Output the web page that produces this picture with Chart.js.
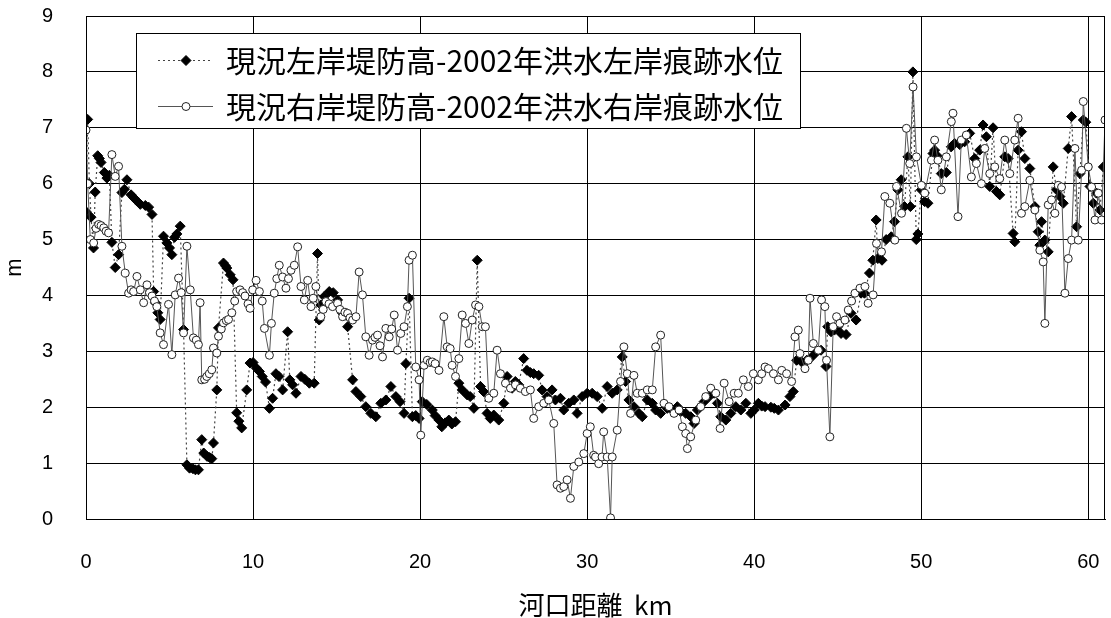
<!DOCTYPE html>
<html>
<head>
<meta charset="utf-8">
<script src="https://cdn.jsdelivr.net/npm/chart.js@4/dist/chart.umd.min.js"></script>
<style>
  html, body { margin: 0; padding: 0; background: #fff; }
  canvas { display: block; }
</style>
</head>
<body>
<canvas id="chart" width="1111" height="618"></canvas>
<script>
// 左岸：現況堤防高 − 2002年洪水痕跡水位 (m)
const leftKm = [
  0.0, 0.1, 0.2, 0.3, 0.45, 0.55, 0.7, 0.8, 0.9, 1.1, 1.25, 1.4, 1.55, 1.75, 1.95, 2.15, 2.3, 2.45, 2.7, 2.85,
  3.05, 3.25, 3.55, 3.75, 3.95, 4.05, 4.15, 4.3, 4.44, 4.64, 4.84, 5.0, 5.14, 5.3, 5.44, 5.64, 5.84, 6.04, 6.2, 6.4,
  6.55, 6.73, 6.93, 7.05, 7.25, 7.4, 7.53, 7.63, 7.83, 7.93, 8.23, 8.35, 8.43, 8.63, 8.8, 9.02, 9.15, 9.32, 9.62, 9.82,
  10.0, 10.2, 10.38, 10.55, 10.75, 10.98, 11.17, 11.37, 11.55, 11.77, 12.07, 12.2, 12.37, 12.57, 12.87, 13.1, 13.37, 13.66, 13.86, 13.96,
  14.06, 14.26, 14.56, 14.8, 15.06, 15.36, 15.66, 15.96, 16.16, 16.45, 16.75, 17.05, 17.35, 17.65, 17.95, 18.25, 18.55, 18.8, 19.04, 19.15,
  19.34, 19.54, 19.74, 19.94, 20.13, 20.4, 20.73, 20.9, 21.13, 21.3, 21.5, 21.72, 21.9, 22.12, 22.32, 22.52, 22.82, 23.0, 23.22, 23.42,
  23.62, 23.8, 24.01, 24.2, 24.41, 24.71, 25.01, 25.21, 25.51, 25.7, 25.9, 26.2, 26.4, 26.6, 26.8, 27.1, 27.3, 27.6, 27.9, 28.1,
  28.4, 28.6, 28.9, 29.2, 29.4, 29.7, 30.0, 30.3, 30.6, 30.9, 31.2, 31.5, 31.8, 32.1, 32.3, 32.5, 32.8, 33.1, 33.3, 33.6,
  33.9, 34.1, 34.4, 34.8, 35.1, 35.4, 35.6, 35.9, 36.2, 36.4, 36.6, 37.0, 37.3, 37.6, 37.8, 38.0, 38.3, 38.6, 38.9, 39.2,
  39.5, 39.8, 40.0, 40.25, 40.45, 40.65, 41.0, 41.2, 41.45, 41.85, 42.14, 42.34, 42.54, 42.84, 43.14, 43.44, 43.74, 44.0, 44.3, 44.4,
  44.6, 44.8, 45.0, 45.2, 45.5, 45.8, 46.1, 46.4, 46.6, 46.9, 47.1, 47.3, 47.4, 47.65, 47.9, 48.2, 48.4, 48.6, 48.8, 49.0,
  49.2, 49.35, 49.5, 49.7, 49.8, 50.0, 50.2, 50.4, 50.7, 50.8, 50.95, 51.2, 51.5, 51.8, 52.0, 52.3, 52.6, 52.9, 53.2, 53.5,
  53.7, 53.9, 54.1, 54.3, 54.5, 54.7, 55.0, 55.2, 55.5, 55.6, 55.8, 56.0, 56.2, 56.5, 56.8, 57.0, 57.1, 57.2, 57.4, 57.6,
  57.9, 58.1, 58.3, 58.5, 58.8, 59.0, 59.3, 59.5, 59.7, 59.85, 60.1, 60.3, 60.5, 60.7, 60.9
];
const leftLevel = [
  5.5, 7.15, 6.0, 5.4, 4.85, 5.85, 6.5, 6.45, 6.38, 6.2, 6.1, 6.15, 4.95, 4.5, 4.73, 5.84, 5.9, 6.07, 5.8, 5.75,
  5.69, 5.63, 5.61, 5.58, 5.45, 4.07, 3.87, 3.69, 3.57, 5.06, 4.94, 4.85, 4.73, 5.04, 5.1, 5.24, 3.39, 0.97, 0.91, 0.9,
  0.88, 0.88, 1.42, 1.18, 1.12, 1.1, 1.08, 1.36, 2.31, 3.42, 4.58, 4.53, 4.49, 4.37, 4.28, 1.9, 1.75, 1.63, 2.31, 2.79,
  2.8, 2.7, 2.64, 2.55, 2.45, 1.98, 2.16, 2.6, 2.55, 2.31, 3.35, 2.49, 2.4, 2.25, 2.55, 2.5, 2.43, 2.43, 4.75, 3.56,
  3.83, 3.98, 4.07, 4.05, 3.92, 3.68, 3.44, 2.49, 2.28, 2.19, 2.01, 1.89, 1.83, 2.07, 2.13, 2.37, 2.19, 2.1, 1.89, 2.78,
  3.95, 1.83, 1.85, 1.8, 2.1, 2.05, 1.95, 1.85, 1.77, 1.65, 1.72, 1.77, 1.7, 1.74, 2.43, 2.31, 2.22, 2.19, 1.98, 4.63,
  2.37, 2.28, 1.89, 1.8, 1.86, 1.77, 2.07, 2.55, 2.34, 2.46, 2.4, 2.87, 2.66, 2.62, 2.6, 2.57, 2.31, 2.19, 2.31, 2.13,
  2.16, 1.95, 2.07, 2.13, 1.89, 2.19, 2.25, 2.25, 2.19, 1.98, 2.37, 2.25, 2.31, 2.9, 2.46, 2.13, 2.01, 1.89, 1.83, 2.13,
  2.07, 1.95, 1.89, 1.98, 1.95, 2.01, 1.92, 1.89, 1.83, 1.71, 1.95, 2.1, 2.19, 2.25, 2.07, 1.83, 1.77, 1.89, 2.01, 1.95,
  2.07, 1.89, 1.95, 2.07, 2.02, 2.01, 2.0, 1.98, 1.95, 2.04, 2.19, 2.28, 2.84, 2.81, 2.84, 2.9, 2.99, 3.02, 2.73, 3.44,
  3.35, 3.38, 3.44, 3.32, 3.3, 3.68, 3.56, 4.04, 4.04, 4.4, 4.63, 5.35, 4.66, 4.63, 5.0, 5.05, 5.32, 5.89, 6.07, 5.59,
  6.48, 5.59, 8.0, 5.0, 5.1, 5.89, 5.68, 5.65, 6.54, 6.6, 6.5, 6.18, 6.2, 6.66, 6.72, 6.7, 6.75, 6.9, 6.45, 6.6,
  7.05, 6.84, 5.95, 7.0, 5.86, 5.8, 6.48, 6.45, 5.11, 4.96, 6.6, 6.93, 6.45, 6.27, 5.59, 5.14, 4.9, 5.32, 4.99, 4.78,
  6.3, 5.89, 5.77, 5.65, 6.63, 7.2, 5.23, 6.18, 7.14, 7.1, 5.95, 5.65, 5.83, 5.53, 6.3
];

// 右岸：現況堤防高 − 2002年洪水痕跡水位 (m)
const rightKm = [
  0.0, 0.1, 0.26, 0.46, 0.6, 0.76, 0.9, 1.06, 1.2, 1.35, 1.55, 1.75, 1.95, 2.15, 2.35, 2.55, 2.7, 2.85, 3.05, 3.25,
  3.45, 3.65, 3.8, 3.95, 4.1, 4.24, 4.44, 4.64, 4.94, 5.14, 5.34, 5.54, 5.7, 5.84, 6.04, 6.24, 6.43, 6.6, 6.73, 6.83,
  6.93, 7.1, 7.23, 7.38, 7.53, 7.63, 7.83, 7.93, 8.1, 8.23, 8.4, 8.53, 8.73, 8.9, 9.02, 9.22, 9.38, 9.52, 9.7, 9.82,
  9.98, 10.18, 10.38, 10.55, 10.68, 10.98, 11.1, 11.27, 11.42, 11.57, 11.77, 11.97, 12.12, 12.27, 12.47, 12.67, 12.87, 13.07, 13.27, 13.47,
  13.6, 13.76, 14.06, 14.2, 14.36, 14.55, 14.76, 15.06, 15.2, 15.36, 15.5, 15.66, 15.8, 15.96, 16.16, 16.35, 16.55, 16.75, 16.95, 17.15,
  17.3, 17.45, 17.6, 17.75, 17.95, 18.15, 18.3, 18.45, 18.65, 18.84, 19.04, 19.24, 19.34, 19.54, 19.74, 19.94, 20.04, 20.24, 20.43, 20.6,
  20.73, 20.9, 21.13, 21.42, 21.62, 21.8, 21.92, 22.12, 22.32, 22.52, 22.72, 22.92, 23.12, 23.32, 23.52, 23.72, 23.91, 24.11, 24.41, 24.61,
  24.81, 25.11, 25.41, 25.71, 26.0, 26.3, 26.6, 26.8, 27.1, 27.4, 27.7, 28.0, 28.2, 28.4, 28.6, 28.8, 29.0, 29.2, 29.5, 29.8,
  30.0, 30.19, 30.39, 30.5, 30.69, 30.89, 30.99, 31.2, 31.4, 31.5, 31.8, 32.0, 32.2, 32.4, 32.6, 32.8, 33.0, 33.3, 33.6, 33.9,
  34.1, 34.4, 34.6, 34.9, 35.2, 35.5, 35.7, 35.9, 36.0, 36.2, 36.5, 36.8, 37.1, 37.4, 37.7, 37.96, 38.2, 38.5, 38.8, 39.05,
  39.35, 39.65, 39.95, 40.25, 40.45, 40.65, 40.85, 41.15, 41.45, 41.65, 41.94, 42.24, 42.44, 42.64, 42.74, 43.04, 43.24, 43.34, 43.54, 43.84,
  44.03, 44.23, 44.33, 44.53, 44.73, 44.93, 45.13, 45.43, 45.63, 45.83, 46.03, 46.33, 46.63, 46.82, 47.12, 47.32, 47.62, 47.82, 48.12, 48.42,
  48.52, 48.82, 49.11, 49.31, 49.51, 49.71, 50.01, 50.21, 50.61, 50.8, 51.0, 51.2, 51.5, 51.8, 51.9, 52.2, 52.4, 52.7, 53.0, 53.3,
  53.6, 53.8, 54.1, 54.4, 54.7, 55.0, 55.3, 55.6, 55.8, 56.0, 56.2, 56.5, 56.8, 57.1, 57.3, 57.4, 57.6, 57.8, 58.0, 58.2,
  58.4, 58.6, 58.8, 59.0, 59.2, 59.4, 59.6, 59.7, 60.0, 60.2, 60.4, 60.6, 60.8, 61.0
];
const rightLevel = [
  6.96, 6.0, 5.0, 4.94, 5.2, 5.27, 5.25, 5.21, 5.15, 5.12, 6.52, 6.13, 6.31, 4.88, 4.4, 4.04, 4.1, 4.07, 4.34, 4.1,
  3.87, 4.19, 4.05, 3.99, 3.9, 3.8, 3.33, 3.12, 3.84, 2.94, 4.01, 4.31, 4.05, 3.33, 4.88, 4.1, 3.24, 3.2, 3.12, 3.87,
  2.49, 2.5, 2.55, 2.6, 2.67, 3.06, 2.97, 3.27, 3.4, 3.51, 3.55, 3.57, 3.69, 3.9, 4.07, 4.1, 4.05, 3.99, 3.85, 3.77,
  4.1, 4.27, 4.07, 3.9, 3.41, 2.93, 3.5, 4.04, 4.3, 4.54, 4.33, 4.13, 4.3, 4.45, 4.54, 4.87, 4.16, 3.92, 4.27, 3.8,
  3.95, 4.16, 3.62, 3.75, 3.89, 3.85, 3.8, 3.86, 3.75, 3.62, 3.7, 3.68, 3.6, 3.56, 3.62, 4.42, 4.01, 3.26, 2.93, 3.2,
  3.25, 3.29, 3.1, 2.9, 3.41, 3.26, 3.4, 3.65, 3.02, 3.32, 3.44, 3.8, 4.63, 4.72, 2.72, 2.49, 1.5, 2.75, 2.84, 2.8,
  2.81, 2.78, 2.66, 3.62, 3.08, 3.05, 2.75, 2.55, 2.87, 3.65, 3.5, 3.14, 3.56, 3.83, 3.8, 3.44, 3.44, 2.16, 2.25, 3.02,
  2.6, 2.43, 2.34, 2.4, 2.34, 2.28, 2.31, 1.8, 2.01, 2.07, 2.13, 1.71, 0.61, 0.55, 0.58, 0.7, 0.37, 0.94, 1.02, 1.17,
  1.53, 1.65, 1.14, 1.11, 0.99, 1.11, 1.56, 1.11, 0.02, 1.11, 1.59, 2.46, 3.08, 2.6, 1.89, 2.57, 2.25, 2.25, 2.31, 2.31,
  3.08, 3.29, 2.07, 2.01, 1.89, 1.95, 1.65, 1.53, 1.26, 1.47, 1.77, 2.01, 2.19, 2.34, 2.25, 1.62, 2.43, 2.1, 2.25, 2.25,
  2.49, 2.37, 2.6, 2.49, 2.6, 2.72, 2.69, 2.6, 2.49, 2.66, 2.6, 2.46, 3.26, 3.38, 2.96, 2.69, 2.84, 3.95, 3.14, 3.02,
  3.92, 3.8, 2.84, 1.47, 3.44, 3.62, 3.5, 3.56, 3.74, 3.9, 4.04, 4.13, 4.16, 3.86, 4.01, 4.93, 4.78, 5.77, 5.65, 4.99,
  5.95, 5.47, 6.99, 6.36, 7.73, 6.48, 5.97, 5.83, 6.42, 6.78, 6.42, 5.89, 6.48, 7.11, 7.26, 5.41, 6.78, 6.87, 6.12, 6.36,
  6.0, 6.63, 6.18, 6.3, 6.09, 6.78, 6.18, 6.78, 7.17, 5.47, 5.59, 6.06, 5.53, 4.81, 4.6, 3.5, 5.62, 5.71, 5.47, 5.97,
  5.94, 4.04, 4.66, 4.99, 6.63, 4.99, 6.24, 7.47, 6.3, 5.94, 5.35, 5.83, 5.35, 7.14
];

const seriesLabels = [
  '現況左岸堤防高-2002年洪水左岸痕跡水位',
  '現況右岸堤防高-2002年洪水右岸痕跡水位'
];
const xTickValues = [0, 10, 20, 30, 40, 50, 60];
const yTickValues = [0, 1, 2, 3, 4, 5, 6, 7, 8, 9];
const xAxisTitle = '河口距離  km';
const yAxisTitle = 'm';

const CJK = '"Noto Sans CJK JP", "Noto Sans", sans-serif';
const NUM = '"Liberation Sans", Arial, sans-serif';

const toPoints = (xs, ys) => xs.map((x, i) => ({ x, y: ys[i] }));

// frame around the plot area (right edge has no tick line)
const plotFrame = {
  id: 'plotFrame',
  afterDatasetsDraw(chart) {
    const { ctx, chartArea: a } = chart;
    ctx.save();
    ctx.strokeStyle = '#000';
    ctx.lineWidth = 1;
    ctx.strokeRect(Math.round(a.left) + 0.5, Math.round(a.top) + 0.5,
                   Math.round(a.right - a.left) - 1, Math.round(a.bottom - a.top));
    ctx.restore();
  }
};

// boxed legend sitting inside the plot area, top-left
const boxedLegend = {
  id: 'boxedLegend',
  afterDraw(chart) {
    const { ctx, chartArea: a } = chart;
    const L = Math.round(a.left) + 50, T = Math.round(a.top) + 17, W = 664, H = 95;
    ctx.save();
    ctx.fillStyle = '#fff';
    ctx.fillRect(L, T, W, H);
    ctx.strokeStyle = '#000';
    ctx.lineWidth = 1;
    ctx.strokeRect(L + 0.5, T + 0.5, W, H);
    chart.data.datasets.forEach((ds, i) => {
      const cy = T + 27 + i * 46;
      ctx.beginPath();
      ctx.setLineDash(ds.borderDash || []);
      ctx.strokeStyle = ds.borderColor;
      ctx.lineWidth = ds.borderWidth;
      ctx.moveTo(L + 22, cy + 0.5);
      ctx.lineTo(L + 77, cy + 0.5);
      ctx.stroke();
      ctx.setLineDash([]);
      ctx.fillStyle = ds.pointBackgroundColor;
      ctx.strokeStyle = ds.pointBorderColor;
      ctx.lineWidth = ds.pointBorderWidth;
      Chart.helpers.drawPoint(ctx, {
        pointStyle: ds.pointStyle, radius: ds.pointRadius,
        borderWidth: ds.pointBorderWidth, rotation: 0
      }, L + 50, cy + 0.5);
      ctx.fillStyle = '#000';
      ctx.font = '30px ' + CJK;
      ctx.textBaseline = 'middle';
      ctx.textAlign = 'left';
      ctx.fillText(ds.label, L + 90, cy + 1);
    });
    ctx.restore();
  }
};

function build() {
  new Chart(document.getElementById('chart'), {
    type: 'scatter',
    data: {
      datasets: [
        {
          label: seriesLabels[0],
          data: toPoints(leftKm, leftLevel),
          showLine: true,
          borderColor: '#444',
          borderWidth: 1.2,
          borderDash: [2, 3],
          pointStyle: 'rectRot',
          pointRadius: 5,
          pointBackgroundColor: '#000',
          pointBorderColor: '#000',
          pointBorderWidth: 1,
          order: 1
        },
        {
          label: seriesLabels[1],
          data: toPoints(rightKm, rightLevel),
          showLine: true,
          borderColor: '#555',
          borderWidth: 1,
          pointStyle: 'circle',
          pointRadius: 4,
          pointBackgroundColor: '#fff',
          pointBorderColor: '#222',
          pointBorderWidth: 1,
          order: 0
        }
      ]
    },
    options: {
      responsive: false,
      animation: false,
      events: [],
      layout: { padding: { top: 16, right: 3, bottom: 0, left: 0 } },
      plugins: { legend: { display: false }, tooltip: { enabled: false } },
      scales: {
        x: {
          type: 'linear',
          min: 0,
          max: 61,
          afterBuildTicks: s => { s.ticks = xTickValues.map(v => ({ value: v })); },
          afterFit: s => { s.height = 99; s.paddingLeft = 0; s.paddingRight = 0; },
          ticks: { color: '#000', padding: 31, maxRotation: 0, font: { family: NUM, size: 20 } },
          grid: { color: '#000', lineWidth: 1, drawTicks: false },
          border: { color: '#000', width: 1 },
          title: {
            display: true, text: xAxisTitle, color: '#000',
            font: { family: CJK, size: 26, lineHeight: 1 },
            padding: { top: 0, bottom: 0 }
          }
        },
        y: {
          min: 0,
          max: 9,
          afterBuildTicks: s => { s.ticks = yTickValues.map(v => ({ value: v })); },
          afterFit: s => { s.width = 86; s.paddingTop = 0; s.paddingBottom = 0; },
          ticks: { color: '#000', padding: 33, font: { family: NUM, size: 20 } },
          grid: { color: '#000', lineWidth: 1, drawTicks: false },
          border: { color: '#000', width: 1 },
          title: {
            display: true, text: yAxisTitle, color: '#000',
            font: { family: NUM, size: 22, lineHeight: 1 },
            padding: { top: 4, bottom: 0 }
          }
        }
      }
    },
    plugins: [plotFrame, boxedLegend]
  });
}

if (document.fonts && document.fonts.load) {
  Promise.all([
    document.fonts.load('30px "Noto Sans CJK JP"', '現況'),
    document.fonts.load('20px "Liberation Sans"', '0')
  ]).then(build, build);
} else {
  build();
}
</script>
</body>
</html>
